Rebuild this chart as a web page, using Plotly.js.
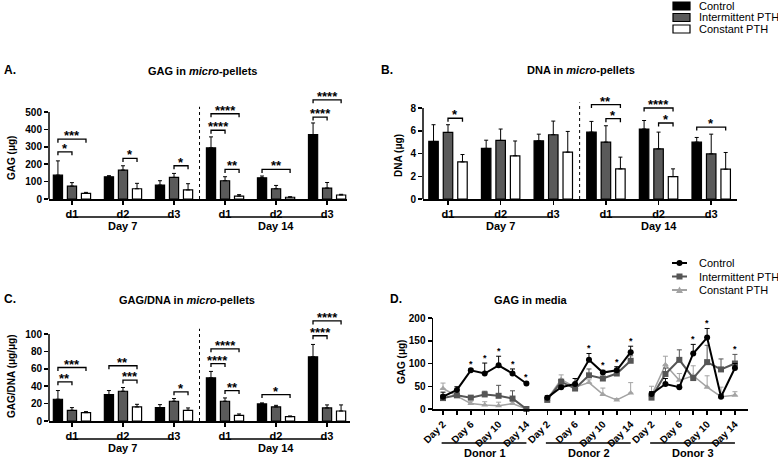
<!DOCTYPE html>
<html><head><meta charset="utf-8">
<script src="https://cdn.plot.ly/plotly-3.0.1.min.js"></script>
<style>html,body{margin:0;padding:0;background:#fff}#chart{width:778px;height:461px}</style>
</head><body><div id="chart"></div>
<script>
const W = 778, H = 461;
const FONT = '"Liberation Sans", Arial, sans-serif';
const fx = v => v / W;
const fy = v => 1 - v / H;

// ---------- Data ----------
const groupLabels = ['d1', 'd2', 'd3', 'd1', 'd2', 'd3'];
const dayLabels = ['Day 7', 'Day 14'];
const seriesNames = ['Control', 'Intermittent PTH', 'Constant PTH'];

// A. GAG in micro-pellets (µg)
const gagCtrl = [137, 128, 80, 294, 122, 370];
const gagCtrlSD = [82, 6, 25, 63, 10, 67];
const gagInt = [74, 166, 124, 105, 59, 63];
const gagIntSD = [20, 25, 23, 23, 19, 32];
const gagCon = [32, 59, 52, 17, 10, 23];
const gagConSD = [6, 31, 36, 8, 3, 4];

// B. DNA in micro-pellets (µg)
const dnaCtrl = [5.06, 4.45, 5.12, 5.88, 6.15, 5.0];
const dnaCtrlSD = [1.47, 0.72, 0.58, 0.94, 0.75, 0.41];
const dnaInt = [5.85, 5.15, 5.65, 5.0, 4.41, 3.97];
const dnaIntSD = [0.68, 1.0, 1.2, 1.44, 1.47, 1.73];
const dnaCon = [3.26, 3.8, 4.12, 2.65, 1.97, 2.62];
const dnaConSD = [0.65, 1.3, 1.82, 1.03, 0.68, 1.47];

// C. GAG/DNA in micro-pellets (µg/µg)
const ratioCtrl = [25, 30.4, 15.4, 49.6, 19.6, 73.8];
const ratioCtrlSD = [10, 4.6, 3.4, 7.4, 1.2, 14.2];
const ratioInt = [12.3, 34.2, 22.7, 22.7, 16.2, 15];
const ratioIntSD = [3.1, 4.3, 3.1, 3.8, 1.8, 3.5];
const ratioCon = [9.6, 16.2, 12.3, 6.5, 5, 11.5];
const ratioConSD = [1.2, 3, 2.7, 1.6, 0.8, 7];

// significance brackets: [group, barFrom, barTo, level, stars]
const sigA = [[0,0,1,271,'*'],[0,0,2,344,'***'],[1,1,2,233,'*'],[2,1,2,191,'*'],
  [3,0,1,395,'****'],[3,0,2,490,'****'],[3,1,2,170,'**'],[4,0,2,170,'**'],
  [5,0,1,471,'****'],[5,0,2,570,'****']];
const sigB = [[0,1,2,7.1,'*'],[3,0,2,8.3,'**'],[3,1,2,7.06,'*'],[4,0,2,8.0,'****'],
  [4,1,2,6.68,'*'],[5,0,2,6.32,'*']];
const sigC = [[0,0,1,45,'**'],[0,0,2,61.5,'***'],[1,0,2,63.5,'**'],[1,1,2,47,'***'],
  [2,1,2,33.5,'*'],[3,0,1,66,'****'],[3,0,2,83,'****'],[3,1,2,35,'**'],
  [4,0,2,30.4,'*'],[5,0,1,98,'****'],[5,0,2,115,'****']];

// D. GAG in media (µg), 3 donors x 7 days
const donors = ['Donor 1', 'Donor 2', 'Donor 3'];
const days = ['Day 2', 'Day 4', 'Day 6', 'Day 8', 'Day 10', 'Day 12', 'Day 14'];
const mediaCtrl = [[27,42,85,78,96,78,56],[25,48,55,108,80,85,125],[33,55,48,122,157,27,90]];
const mediaCtrlSD = [[10,7,3,23,20,10,3],[4,4,12,14,5,8,13],[5,12,5,20,20,5,10]];
const mediaInt = [[24,30,25,32,29,23,0],[20,60,45,74,67,78,106],[25,77,108,68,103,87,100]];
const mediaIntSD = [[8,3,3,7,23,17,0],[4,5,8,14,4,4,11],[5,13,22,5,37,23,20]];
const mediaCon = [[45,28,12,9,7,12,0],[22,65,48,58,32,20,35],[30,97,63,73,48,27,30]];
const mediaConSD = [[12,3,5,7,8,4,0],[4,10,5,6,14,3,23],[20,19,15,22,25,21,8]];
const mediaStars = [[2,3,4,5,6],[3,4,5,6],[3,4,6]];

// ---------- Layout ----------
const barColors = ['#000000', '#5a5a5a', '#ffffff'];
const lineColors = ['#000000', '#555555', '#a3a3a3'];
const BAR_SLOT = 0.275;

const panels = [
  {n:'', xDom:[49,347], xRange:[-0.45,5.39], y0:199, yTop:88, ppu:87/500, ticks:[0,100,200,300,400,500],
   vals:[gagCtrl,gagInt,gagCon], sds:[gagCtrlSD,gagIntSD,gagConSD], sig:sigA,
   title:'<b>GAG in <i>micro</i>-pellets</b>', tx:202, ty:71, letter:'A.', lx:2, ly:70,
   ytitle:'<b>GAG (μg)</b>', ytx:11, yty:158},
  {n:'2', xDom:[423,737], xRange:[-0.475,5.49], y0:199, yTop:92, ppu:91/8, ticks:[0,2,4,6,8],
   vals:[dnaCtrl,dnaInt,dnaCon], sds:[dnaCtrlSD,dnaIntSD,dnaConSD], sig:sigB,
   title:'<b>DNA in <i>micro</i>-pellets</b>', tx:581, ty:70, letter:'B.', lx:379, ly:70,
   ytitle:'<b>DNA (μg)</b>', ytx:398, yty:155},
  {n:'3', xDom:[49,350], xRange:[-0.45,5.45], y0:421, yTop:312, ppu:87/100, ticks:[0,20,40,60,80,100],
   vals:[ratioCtrl,ratioInt,ratioCon], sds:[ratioCtrlSD,ratioIntSD,ratioConSD], sig:sigC,
   title:'<b>GAG/DNA in <i>micro</i>-pellets</b>', tx:187, ty:300, letter:'C.', lx:2, ly:299,
   ytitle:'<b>GAG/DNA (μg/μg)</b>', ytx:11, yty:376}
];

const data = [];
const shapes = [];
const annotations = [];
const layout = {
  width: W, height: H, margin: {l:0, r:0, t:0, b:0},
  paper_bgcolor: '#fff', plot_bgcolor: 'rgba(0,0,0,0)',
  font: {family: FONT, color: '#000', size: 10},
  showlegend: false, barmode: 'group', bargap: 0.175, bargroupgap: 0.345,
  shapes: shapes, annotations: annotations
};

function ann(o) { annotations.push(Object.assign({showarrow:false, font:{family:FONT, size:11, color:'#000'}}, o)); }

panels.forEach(p => {
  const xa = 'x' + p.n, ya = 'y' + p.n;
  const yTopVal = (p.y0 - p.yTop) / p.ppu;
  const maxTick = p.ticks[p.ticks.length - 1];
  layout['xaxis' + p.n] = {
    domain: [fx(p.xDom[0]), fx(p.xDom[1])], range: p.xRange, anchor: ya,
    tickvals: groupLabels.map((_, i) => i), ticktext: groupLabels.map(t => '<b>' + t + '</b>'),
    ticks: 'outside', ticklen: 4, tickwidth: 1.5, tickcolor: '#000',
    showline: true, linecolor: '#000', linewidth: 1.5, showgrid: false, zeroline: false,
    tickfont: {family: FONT, size: 11, color: '#000'}, fixedrange: true
  };
  layout['yaxis' + p.n] = {
    domain: [fy(p.y0), fy(p.yTop)], range: [0, yTopVal], anchor: xa,
    tickvals: p.ticks, ticks: 'outside', ticklen: 4, tickwidth: 1.5, tickcolor: '#000',
    showline: false, showgrid: false, zeroline: false,
    tickfont: {family: FONT, size: 10, color: '#000', weight: 'bold'}, fixedrange: true
  };
  // y axis line only up to the top tick
  shapes.push({type:'line', xref:'paper', yref:ya, x0:fx(p.xDom[0]), x1:fx(p.xDom[0]), y0:0, y1:maxTick,
    line:{color:'#000', width:1.5}});
  // dotted separator between Day 7 and Day 14
  shapes.push({type:'line', xref:xa, yref:ya, x0:2.5, x1:2.5, y0:0, y1:maxTick*1.06,
    line:{color:'#000', width:1, dash:'dot'}});
  // bars
  for (let s = 0; s < 3; s++) {
    data.push({
      type:'bar', name: seriesNames[s], x: groupLabels.map((_, i) => i), y: p.vals[s],
      xaxis: xa, yaxis: ya, cliponaxis: false,
      marker: {color: barColors[s], line: {color: '#000', width: 1.2}},
      error_y: {type:'data', symmetric:false, array: p.sds[s], arrayminus: p.sds[s].map(() => 0),
        color:'#000', thickness:1, width:2},
      hoverinfo: 'skip'
    });
  }
  // significance brackets
  const drop = 3.5 / p.ppu;
  p.sig.forEach(([g, b1, b2, lvl, st]) => {
    const xA = g + (b1 - 1) * BAR_SLOT, xB = g + (b2 - 1) * BAR_SLOT;
    shapes.push({type:'path', xref:xa, yref:ya,
      path:`M${xA},${lvl - drop} L${xA},${lvl} L${xB},${lvl} L${xB},${lvl - drop}`,
      line:{color:'#000', width:1.3}});
    ann({xref:xa, yref:ya, x:(xA + xB) / 2, y:lvl, yanchor:'bottom', yshift:-6,
      text:'<b>' + st + '</b>', font:{family:FONT, size:13, color:'#000'}});
  });
  // Day 7 / Day 14 underlines
  dayLabels.forEach((d, k) => {
    const g0 = k * 3, g1 = k * 3 + 2;
    shapes.push({type:'line', xref:xa, yref:'paper', x0:g0 - 0.08, x1:g1, y0:fy(p.y0 + 18), y1:fy(p.y0 + 18),
      line:{color:'#000', width:1.3}});
    ann({xref:xa, yref:'paper', x:(g0 + g1) / 2, y:fy(p.y0 + 27), yanchor:'middle', text:'<b>' + d + '</b>'});
  });
  ann({xref:'paper', yref:'paper', x:fx(p.tx), y:fy(p.ty), xanchor:'center', yanchor:'middle', text:p.title});
  ann({xref:'paper', yref:'paper', x:fx(p.lx), y:fy(p.ly), xanchor:'left', yanchor:'middle', text:'<b>' + p.letter + '</b>',
    font:{family:FONT, size:12, color:'#000'}});
  ann({xref:'paper', yref:'paper', x:fx(p.ytx), y:fy(p.yty), xanchor:'center', yanchor:'middle', textangle:-90,
    text:p.ytitle, font:{family:FONT, size:10, color:'#000'}});
});

// ---------- Panel D ----------
const DONOR_STEP = 7.5;
const dX = [];
donors.forEach((_, d) => days.forEach((_, i) => dX.push(d * DONOR_STEP + i)));
const dTickText = [];
donors.forEach(() => days.forEach((t, i) => dTickText.push(i % 2 === 0 ? '<b>' + t + '</b>' : '')));

layout.xaxis4 = {
  domain:[fx(433), fx(748)], range:[-0.72, 21.94], anchor:'y4',
  tickvals: dX, ticktext: dTickText, tickangle: -45,
  ticks:'outside', ticklen:4, tickwidth:1.5, tickcolor:'#000',
  showline:true, linecolor:'#000', linewidth:1.5, showgrid:false, zeroline:false,
  tickfont:{family:FONT, size:10, color:'#000'}, fixedrange:true
};
layout.yaxis4 = {
  domain:[fy(409), fy(318)], range:[0, 200], anchor:'x4',
  tickvals:[0, 50, 100, 150, 200], ticks:'outside', ticklen:4, tickwidth:1.5, tickcolor:'#000',
  showline:true, linecolor:'#000', linewidth:1.5, showgrid:false, zeroline:false,
  tickfont:{family:FONT, size:10, color:'#000', weight:'bold'}, fixedrange:true
};

const mediaVals = [mediaCtrl, mediaInt, mediaCon];
const mediaSDs = [mediaCtrlSD, mediaIntSD, mediaConSD];
const symbols = ['circle', 'square', 'triangle-up'];
const order = [2, 1, 0];
order.forEach(s => {
  donors.forEach((_, d) => {
    data.push({
      type:'scatter', mode:'lines+markers', name: seriesNames[s],
      x: days.map((_, i) => d * DONOR_STEP + i), y: mediaVals[s][d],
      xaxis:'x4', yaxis:'y4', cliponaxis:false,
      line:{color: lineColors[s], width: s === 2 ? 1.5 : 2},
      marker:{symbol: symbols[s], color: lineColors[s], size: 6},
      error_y:{type:'data', symmetric:false, array: mediaSDs[s][d], arrayminus: mediaSDs[s][d].map(() => 0),
        color: lineColors[s], thickness: 1, width: 2.5},
      hoverinfo:'skip'
    });
  });
});
// stars above points
mediaStars.forEach((idxs, d) => {
  idxs.forEach(i => {
    const top = Math.max(...[0, 1, 2].map(s => mediaVals[s][d][i] + mediaSDs[s][d][i]));
    ann({xref:'x4', yref:'y4', x: d * DONOR_STEP + i, y: top, yanchor:'bottom', yshift:-2,
      text:'<b>*</b>', font:{family:FONT, size:9, color:'#000'}});
  });
});
// donor underlines
donors.forEach((dn, d) => {
  const s0 = d * DONOR_STEP;
  shapes.push({type:'line', xref:'x4', yref:'paper', x0:s0 - 0.1, x1:s0 + 6, y0:fy(443), y1:fy(443),
    line:{color:'#000', width:1.3}});
  ann({xref:'x4', yref:'paper', x:s0 + 3, y:fy(453), yanchor:'middle', text:'<b>' + dn + '</b>'});
});
ann({xref:'paper', yref:'paper', x:fx(570), y:fy(300), yanchor:'middle', text:'<b>GAG in media</b>'});
ann({xref:'paper', yref:'paper', x:fx(388), y:fy(299), xanchor:'left', yanchor:'middle', text:'<b>D.</b>',
  font:{family:FONT, size:12, color:'#000'}});
ann({xref:'paper', yref:'paper', x:fx(401), y:fy(362), xanchor:'center', yanchor:'middle', textangle:-90,
  text:'<b>GAG (μg)</b>', font:{family:FONT, size:10, color:'#000'}});

// ---------- Legends (drawn) ----------
const legTopY = [6, 17.5, 29];
seriesNames.forEach((nm, s) => {
  const cy = legTopY[s];
  shapes.push({type:'rect', xref:'paper', yref:'paper', x0:fx(673), x1:fx(690), y0:fy(cy + 4), y1:fy(cy - 4),
    fillcolor: barColors[s], line:{color:'#000', width:1.2}});
  ann({xref:'paper', yref:'paper', x:fx(697), y:fy(cy), xanchor:'left', yanchor:'middle', text:nm});
});
const legDY = [263, 276.5, 290];
seriesNames.forEach((nm, s) => {
  const cy = legDY[s];
  shapes.push({type:'line', xref:'paper', yref:'paper', x0:fx(672), x1:fx(687), y0:fy(cy), y1:fy(cy),
    line:{color: lineColors[s], width: 2}});
  if (s === 0) {
    shapes.push({type:'circle', xref:'paper', yref:'paper', x0:fx(676.5), x1:fx(682.5), y0:fy(cy + 3), y1:fy(cy - 3),
      fillcolor: lineColors[s], line:{color: lineColors[s], width: 0}});
  } else if (s === 1) {
    shapes.push({type:'rect', xref:'paper', yref:'paper', x0:fx(676.5), x1:fx(682.5), y0:fy(cy + 3), y1:fy(cy - 3),
      fillcolor: lineColors[s], line:{color: lineColors[s], width: 0}});
  } else {
    shapes.push({type:'path', xref:'paper', yref:'paper',
      path:`M${fx(676)},${fy(cy + 3)} L${fx(683)},${fy(cy + 3)} L${fx(679.5)},${fy(cy - 3.5)} Z`,
      fillcolor: lineColors[s], line:{color: lineColors[s], width: 0}});
  }
  ann({xref:'paper', yref:'paper', x:fx(697), y:fy(cy), xanchor:'left', yanchor:'middle', text:nm});
});

Plotly.newPlot('chart', data, layout, {staticPlot: true, displayModeBar: false});
</script>
</body></html>
